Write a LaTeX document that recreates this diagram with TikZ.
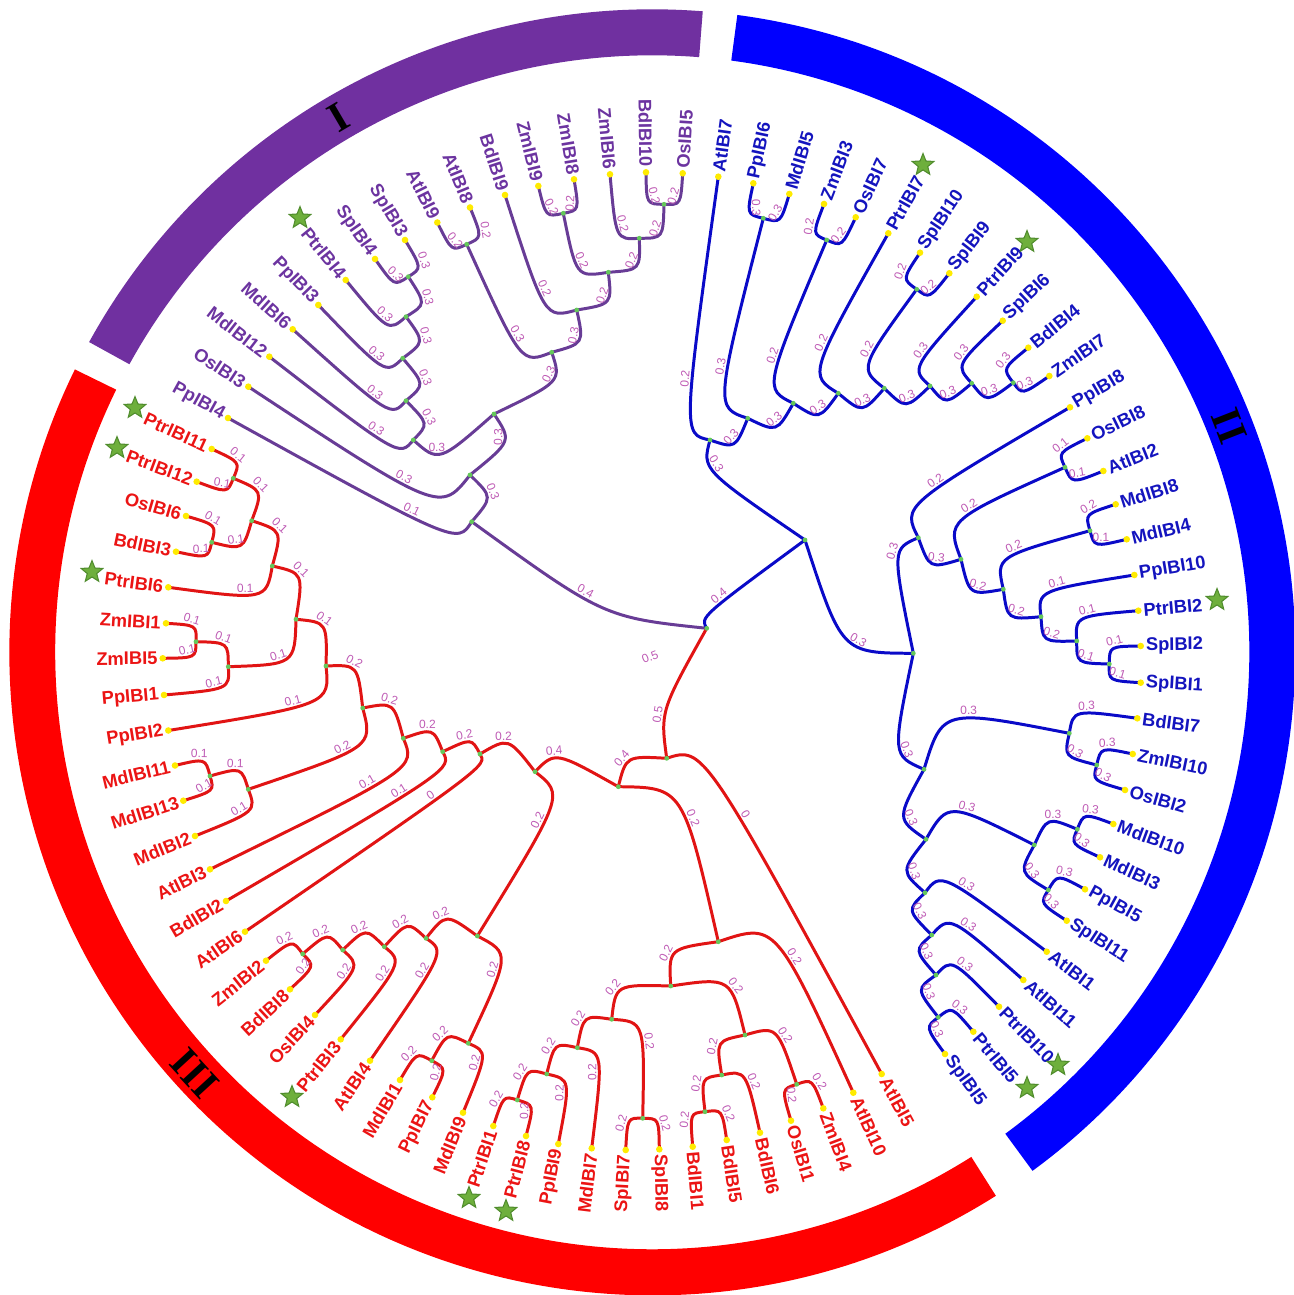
\documentclass[tikz,border=0pt]{standalone}
\usepackage{fontspec}
\setmainfont{Liberation Sans}
\newfontfamily\romfont{Liberation Serif}
\usetikzlibrary{calc,shapes.geometric}
\pgfdeclarelayer{bg}
\pgfsetlayers{bg,main}
\definecolor{purB}{RGB}{112,48,160}
\definecolor{purL}{RGB}{104,60,150}
\definecolor{purT}{RGB}{108,52,160}
\definecolor{bluB}{RGB}{0,0,255}
\definecolor{bluL}{RGB}{10,10,200}
\definecolor{bluT}{RGB}{20,20,190}
\definecolor{redB}{RGB}{255,0,0}
\definecolor{redL}{RGB}{225,20,20}
\definecolor{redT}{RGB}{235,20,20}
\definecolor{labc}{RGB}{190,90,180}
\definecolor{gdotc}{RGB}{100,200,90}
\definecolor{ydotc}{RGB}{255,235,0}
\definecolor{starF}{RGB}{110,175,60}
\definecolor{starD}{RGB}{80,140,45}
\tikzset{
  brn/.style={line width=0.85pt,line cap=round},
  blsty/.style={font=\fontsize{3.4}{3.7}\selectfont,text=labc,inner sep=0.4pt},
  lfsty/.style={font=\fontsize{5.2}{6}\selectfont\bfseries,inner sep=1.3pt},
  starsty/.style={star,star points=5,star point ratio=2.3,fill=starF,draw=starD,line width=0.3pt,minimum size=6.5pt,inner sep=0pt},
  romsty/.style={font=\romfont\bfseries\fontsize{12}{12}\selectfont,text=black,inner sep=0pt}
}
\newcommand\lf[4]{%
  \coordinate (#1) at (#2,#3);%
  \pgfmathsetmacro\LA{atan2(652.3-(#3),(#2)-652.3)}%
  \pgfmathtruncatemacro\LC{abs(\LA)<90 ? 1 : 0}%
  \ifnum\LC=1
    \node[lfsty,text=#4,rotate=\LA,anchor=west] (t#1) at (#1) {#1};%
  \else
    \pgfmathsetmacro\LB{\LA>0 ? \LA-180 : \LA+180}%
    \node[lfsty,text=#4,rotate=\LB,anchor=east] (t#1) at (#1) {#1};%
  \fi
  \fill[ydotc] (#1) circle[radius=3.3];}
\newcommand\nd[3]{\coordinate (#1) at (#2,#3); \fill[gdotc] (#1) circle[radius=2.4];}
\newcommand\ed[3]{%
  \draw[brn,draw=\ec] let \p1=($(#1)-(O)$), \n1={veclen(\x1,\y1)} in
    (#1) .. controls ($(O)!\n1!(#2)$) .. (#2) node[blsty,pos=.6,sloped,above]{#3};}
\begin{document}
\begin{tikzpicture}[x=0.01cm,y=-0.01cm]
\useasboundingbox (0,0) rectangle (1293,1295);
\coordinate (O) at (652.3,652.3);
% ring
\fill[purB] ($(O)+(-85.5:597)$) arc[start angle=-85.5,end angle=-151.15,radius=597]
  -- ($(O)+(-151.15:643)$) arc[start angle=-151.15,end angle=-85.5,radius=643] -- cycle;
\fill[bluB] ($(O)+(53.75:597)$) arc[start angle=53.75,end angle=-82.4,radius=597]
  -- ($(O)+(-82.4:643)$) arc[start angle=-82.4,end angle=53.75,radius=643] -- cycle;
\fill[redB] ($(O)+(-153.9:597)$) arc[start angle=-153.9,end angle=-302.3,radius=597]
  -- ($(O)+(-302.3:643)$) arc[start angle=-302.3,end angle=-153.9,radius=643] -- cycle;
\node[romsty,rotate=30.4] (n1) at ($(O)+(-120.4:620)$) {I};
\node[romsty,rotate=-68.6] (n2) at ($(O)+(-21.4:620)$) {II};
\node[romsty,rotate=132.6] (n3) at ($(O)+(-222.6:622)$) {III};
% root
\nd{RT}{706.7}{628.3}
% purple
\nd{P1}{471.7}{521.7}\nd{P2}{470}{475}\nd{P3}{494}{414}\nd{P4}{413.3}{440}
\nd{P5}{406}{400.7}\nd{P6}{402.7}{358.3}\nd{P7}{406}{316.7}\nd{P8}{408.3}{276.7}
\nd{P10}{551.7}{352.3}\nd{P11}{466.7}{244.3}\nd{P12}{576.7}{310}\nd{P13}{608.3}{272.3}
\nd{P14}{563.3}{213.3}\nd{P15}{639.3}{238.3}\nd{P16}{664}{204.3}
\lf{PpIBI4}{228}{418}{purT}
\lf{OsIBI3}{248.3}{386.7}{purT}
\lf{MdIBI12}{269.3}{356.7}{purT}
\lf{MdIBI6}{292.7}{329.3}{purT}
\lf{PpIBI3}{318.3}{305}{purT}
\lf{PtrIBI4}{345.7}{280}{purT}
\lf{SpIBI4}{375}{259}{purT}
\lf{SpIBI3}{405}{240}{purT}
\lf{AtIBI9}{437.3}{222.5}{purT}
\lf{AtIBI8}{470}{207.5}{purT}
\lf{BdIBI9}{505}{195}{purT}
\lf{ZmIBI9}{538.3}{186}{purT}
\lf{ZmIBI8}{574}{179.3}{purT}
\lf{ZmIBI6}{610}{174.3}{purT}
\lf{BdIBI10}{646}{172.3}{purT}
\lf{OsIBI5}{682.7}{173.3}{purT}
% blue
\nd{B0}{805}{540}\nd{B1}{710}{440}\nd{B2}{747.7}{418.3}\nd{B3}{763.3}{218.3}
\nd{B4}{793.3}{403.3}\nd{B5}{826.7}{240}\nd{B6}{838.3}{393.3}\nd{B7}{884.3}{388.3}
\nd{B8}{916.7}{289.3}\nd{B9}{930}{386}\nd{B10}{971.7}{383.3}\nd{B11}{1013.3}{382.7}
\nd{B20}{913.3}{653.3}\nd{B21}{918.3}{537.7}\nd{B22}{961}{559.3}\nd{B23}{1065}{467.3}
\nd{B24}{1003.3}{589.3}\nd{B25}{1090}{530.7}\nd{B26}{1041}{616.7}\nd{B27}{1076.7}{641}
\nd{B28}{1109.3}{664}\nd{B30}{924}{769.3}\nd{B31}{1069.3}{733.3}\nd{B32}{926}{839.3}
\nd{B33}{1096.7}{765}\nd{B34}{1034.3}{845}\nd{B35}{925}{892.7}\nd{B36}{1077.3}{829.3}
\nd{B37}{1048.3}{890}\nd{B38}{931.7}{935}\nd{B39}{936}{975}\nd{B40}{938.3}{1017.3}
\lf{AtIBI7}{718.3}{176.7}{bluT}
\lf{PpIBI6}{753.3}{183.3}{bluT}
\lf{MdIBI5}{789.3}{194}{bluT}
\lf{ZmIBI3}{824}{204}{bluT}
\lf{OsIBI7}{855.7}{217.3}{bluT}
\lf{PtrIBI7}{888.3}{233.3}{bluT}
\lf{SpIBI10}{920}{252.7}{bluT}
\lf{SpIBI9}{949.3}{273.3}{bluT}
\lf{PtrIBI9}{976.7}{296.7}{bluT}
\lf{SpIBI6}{1002.7}{320.7}{bluT}
\lf{BdIBI4}{1028.3}{347.7}{bluT}
\lf{ZmIBI7}{1049.3}{376}{bluT}
\lf{PpIBI8}{1070}{407.3}{bluT}
\lf{OsIBI8}{1087.3}{438.3}{bluT}
\lf{AtIBI2}{1103.3}{471}{bluT}
\lf{MdIBI8}{1115.7}{504.3}{bluT}
\lf{MdIBI4}{1126.7}{539.3}{bluT}
\lf{PpIBI10}{1134.3}{575}{bluT}
\lf{PtrIBI2}{1138.3}{610.7}{bluT}
\lf{SpIBI2}{1140.7}{646}{bluT}
\lf{SpIBI1}{1140.7}{682.7}{bluT}
\lf{BdIBI7}{1137.3}{718.3}{bluT}
\lf{ZmIBI10}{1132.7}{754}{bluT}
\lf{OsIBI2}{1125}{790}{bluT}
\lf{MdIBI10}{1113.3}{824}{bluT}
\lf{MdIBI3}{1100}{857.3}{bluT}
\lf{PpIBI5}{1085}{889.3}{bluT}
\lf{SpIBI11}{1066.7}{920.7}{bluT}
\lf{AtIBI1}{1046.7}{951.7}{bluT}
\lf{AtIBI11}{1023.3}{980}{bluT}
\lf{PtrIBI10}{999}{1006.7}{bluT}
\lf{PtrIBI5}{973.3}{1031.7}{bluT}
\lf{SpIBI5}{945}{1054}{bluT}
% red
\nd{RR}{666.7}{758.3}\nd{R1}{618.3}{786.7}\nd{R2}{535}{771.7}\nd{R3}{480}{754}
\nd{R4}{442.7}{751.7}\nd{R5}{403.3}{738.3}\nd{R6}{362.7}{708}\nd{R7}{326}{666}
\nd{R8}{248.3}{789.3}\nd{R9}{296}{619.3}\nd{R10}{477.3}{936}\nd{R11}{272.3}{566}
\nd{R12}{228.3}{666.7}\nd{R13}{251.7}{520.7}\nd{R14}{233.3}{478.3}\nd{R15}{211.7}{542.3}
\nd{R16}{196}{641.7}\nd{R17}{210}{776}\nd{R18}{426}{938.3}\nd{R19}{468.3}{1043.3}
\nd{R20}{718.3}{941.7}\nd{R21}{384.3}{946.7}\nd{R22}{342.7}{950}\nd{R23}{302.7}{954}
\nd{R24}{431.7}{1060.7}\nd{R25}{670.7}{986}\nd{R26}{611.7}{1019.3}\nd{R27}{745}{1035}
\nd{R28}{577.3}{1047.7}\nd{R29}{642.7}{1118.3}\nd{R30}{546.7}{1074}\nd{R31}{517.3}{1100}
\nd{R32}{721.7}{1075}\nd{R33}{796.7}{1084.3}\nd{R34}{705}{1111.7}
\lf{PtrIBI11}{211.7}{449}{redT}
\lf{PtrIBI12}{196.7}{481.7}{redT}
\lf{OsIBI6}{186}{516}{redT}
\lf{BdIBI3}{176}{551.7}{redT}
\lf{PtrIBI6}{168.3}{587.3}{redT}
\lf{ZmIBI1}{166}{623.3}{redT}
\lf{ZmIBI5}{162.7}{658.3}{redT}
\lf{PpIBI1}{164}{695}{redT}
\lf{PpIBI2}{168.3}{730.5}{redT}
\lf{MdIBI11}{175}{765.5}{redT}
\lf{MdIBI13}{183.3}{800.7}{redT}
\lf{MdIBI2}{195}{836}{redT}
\lf{AtIBI3}{210}{869.3}{redT}
\lf{BdIBI2}{226}{901}{redT}
\lf{AtIBI6}{245}{931.7}{redT}
\lf{ZmIBI2}{266}{960.7}{redT}
\lf{BdIBI8}{290}{989.3}{redT}
\lf{OsIBI4}{315}{1015}{redT}
\lf{PtrIBI3}{340.7}{1039.3}{redT}
\lf{AtIBI4}{370}{1060.7}{redT}
\lf{MdIBI1}{400}{1080}{redT}
\lf{PpIBI7}{432.3}{1097.3}{redT}
\lf{MdIBI9}{463}{1112.7}{redT}
\lf{PtrIBI1}{493.3}{1126}{redT}
\lf{PtrIBI8}{526}{1136}{redT}
\lf{PpIBI9}{558.3}{1144}{redT}
\lf{MdIBI7}{591.7}{1148.3}{redT}
\lf{SpIBI7}{625.7}{1150}{redT}
\lf{SpIBI8}{659.3}{1149.3}{redT}
\lf{BdIBI1}{692.7}{1146.7}{redT}
\lf{BdIBI5}{726.7}{1140}{redT}
\lf{BdIBI6}{760}{1132.7}{redT}
\lf{OsIBI1}{791}{1120.7}{redT}
\lf{ZmIBI4}{823.3}{1108.3}{redT}
\lf{AtIBI10}{853.3}{1092.7}{redT}
\lf{AtIBI5}{881.7}{1074}{redT}
% stars
\node[starsty] (s1) at (300,218) {};
\node[starsty] (s2) at (923,165) {};
\node[starsty] (s3) at (1027,242) {};
\node[starsty] (s4) at (1217,600) {};
\node[starsty] (s5) at (1058,1065) {};
\node[starsty] (s6) at (1027,1088) {};
\node[starsty] (s7) at (135,408) {};
\node[starsty] (s8) at (117,448) {};
\node[starsty] (s9) at (92,572) {};
\node[starsty] (s10) at (292,1097) {};
\node[starsty] (s11) at (469,1198) {};
\node[starsty] (s12) at (506,1211) {};
\node[blsty,rotate=22] (x05) at (650,657) {0.5};
\begin{pgfonlayer}{bg}
\def\ec{purL}
\ed{RT}{P1}{0.4}
\ed{P1}{PpIBI4}{0.1}
\ed{P1}{P2}{0.3}
\ed{P2}{OsIBI3}{0.3}
\ed{P2}{P3}{0.3}
\ed{P3}{P4}{0.3}
\ed{P4}{MdIBI12}{0.3}
\ed{P4}{P5}{0.3}
\ed{P5}{MdIBI6}{0.3}
\ed{P5}{P6}{0.3}
\ed{P6}{PpIBI3}{0.3}
\ed{P6}{P7}{0.3}
\ed{P7}{PtrIBI4}{0.3}
\ed{P7}{P8}{0.3}
\ed{P8}{SpIBI4}{0.3}
\ed{P8}{SpIBI3}{0.3}
\ed{P3}{P10}{0.3}
\ed{P10}{P11}{0.3}
\ed{P11}{AtIBI9}{0.2}
\ed{P11}{AtIBI8}{0.2}
\ed{P10}{P12}{0.3}
\ed{P12}{BdIBI9}{0.2}
\ed{P12}{P13}{0.2}
\ed{P13}{P14}{0.2}
\ed{P14}{ZmIBI9}{0.2}
\ed{P14}{ZmIBI8}{0.2}
\ed{P13}{P15}{0.2}
\ed{P15}{ZmIBI6}{0.2}
\ed{P15}{P16}{0.2}
\ed{P16}{BdIBI10}{0.2}
\ed{P16}{OsIBI5}{0.2}
\def\ec{bluL}
\ed{RT}{B0}{0.4}
\ed{B0}{B1}{0.3}
\ed{B1}{AtIBI7}{0.2}
\ed{B1}{B2}{0.3}
\ed{B2}{B3}{0.3}
\ed{B3}{PpIBI6}{0.3}
\ed{B3}{MdIBI5}{0.3}
\ed{B2}{B4}{0.3}
\ed{B4}{B5}{0.2}
\ed{B5}{ZmIBI3}{0.2}
\ed{B5}{OsIBI7}{0.2}
\ed{B4}{B6}{0.3}
\ed{B6}{PtrIBI7}{0.2}
\ed{B6}{B7}{0.3}
\ed{B7}{B8}{0.2}
\ed{B8}{SpIBI10}{0.2}
\ed{B8}{SpIBI9}{0.2}
\ed{B7}{B9}{0.3}
\ed{B9}{PtrIBI9}{0.3}
\ed{B9}{B10}{0.3}
\ed{B10}{SpIBI6}{0.3}
\ed{B10}{B11}{0.3}
\ed{B11}{BdIBI4}{0.3}
\ed{B11}{ZmIBI7}{0.3}
\ed{B0}{B20}{0.3}
\ed{B20}{B21}{0.3}
\ed{B21}{PpIBI8}{0.2}
\ed{B21}{B22}{0.3}
\ed{B22}{B23}{0.2}
\ed{B23}{OsIBI8}{0.1}
\ed{B23}{AtIBI2}{0.1}
\ed{B22}{B24}{0.2}
\ed{B24}{B25}{0.2}
\ed{B25}{MdIBI8}{0.2}
\ed{B25}{MdIBI4}{0.1}
\ed{B24}{B26}{0.2}
\ed{B26}{PpIBI10}{0.1}
\ed{B26}{B27}{0.2}
\ed{B27}{PtrIBI2}{0.1}
\ed{B27}{B28}{0.1}
\ed{B28}{SpIBI2}{0.1}
\ed{B28}{SpIBI1}{0.1}
\ed{B20}{B30}{0.3}
\ed{B30}{B31}{0.3}
\ed{B31}{BdIBI7}{0.3}
\ed{B31}{B33}{0.3}
\ed{B33}{ZmIBI10}{0.3}
\ed{B33}{OsIBI2}{0.3}
\ed{B30}{B32}{0.3}
\ed{B32}{B34}{0.3}
\ed{B34}{B36}{0.3}
\ed{B36}{MdIBI10}{0.3}
\ed{B36}{MdIBI3}{0.3}
\ed{B34}{B37}{0.3}
\ed{B37}{PpIBI5}{0.3}
\ed{B37}{SpIBI11}{0.3}
\ed{B32}{B35}{0.3}
\ed{B35}{AtIBI1}{0.3}
\ed{B35}{B38}{0.3}
\ed{B38}{AtIBI11}{0.3}
\ed{B38}{B39}{0.3}
\ed{B39}{PtrIBI10}{0.3}
\ed{B39}{B40}{0.3}
\ed{B40}{PtrIBI5}{0.3}
\ed{B40}{SpIBI5}{0.3}
\def\ec{redL}
\ed{RT}{RR}{0.5}
\ed{RR}{R1}{0.4}
\ed{RR}{AtIBI5}{0}
\ed{R1}{R2}{0.4}
\ed{R1}{R20}{0.2}
\ed{R2}{R3}{0.2}
\ed{R2}{R10}{0.2}
\ed{R3}{R4}{0.2}
\ed{R3}{AtIBI6}{0}
\ed{R4}{R5}{0.2}
\ed{R4}{BdIBI2}{0.1}
\ed{R5}{R6}{0.2}
\ed{R5}{AtIBI3}{0.1}
\ed{R6}{R7}{0.2}
\ed{R6}{R8}{0.2}
\ed{R7}{R9}{0.1}
\ed{R7}{PpIBI2}{0.1}
\ed{R9}{R11}{0.1}
\ed{R9}{R12}{0.1}
\ed{R11}{R13}{0.1}
\ed{R11}{PtrIBI6}{0.1}
\ed{R13}{R14}{0.1}
\ed{R13}{R15}{0.1}
\ed{R14}{PtrIBI11}{0.1}
\ed{R14}{PtrIBI12}{0.1}
\ed{R15}{OsIBI6}{0.1}
\ed{R15}{BdIBI3}{0.1}
\ed{R12}{R16}{0.1}
\ed{R12}{PpIBI1}{0.1}
\ed{R16}{ZmIBI1}{0.1}
\ed{R16}{ZmIBI5}{0.1}
\ed{R8}{R17}{0.1}
\ed{R8}{MdIBI2}{0.1}
\ed{R17}{MdIBI11}{0.1}
\ed{R17}{MdIBI13}{0.1}
\ed{R10}{R18}{0.2}
\ed{R10}{R19}{0.2}
\ed{R18}{R21}{0.2}
\ed{R18}{AtIBI4}{0.2}
\ed{R21}{R22}{0.2}
\ed{R21}{PtrIBI3}{0.2}
\ed{R22}{R23}{0.2}
\ed{R22}{OsIBI4}{0.2}
\ed{R23}{ZmIBI2}{0.2}
\ed{R23}{BdIBI8}{0.2}
\ed{R19}{R24}{0.2}
\ed{R19}{MdIBI9}{0.2}
\ed{R24}{MdIBI1}{0.2}
\ed{R24}{PpIBI7}{0.2}
\ed{R20}{R25}{0.2}
\ed{R20}{AtIBI10}{0.2}
\ed{R25}{R26}{0.2}
\ed{R25}{R27}{0.2}
\ed{R26}{R28}{0.2}
\ed{R26}{R29}{0.2}
\ed{R28}{R30}{0.2}
\ed{R28}{MdIBI7}{0.2}
\ed{R30}{R31}{0.2}
\ed{R30}{PpIBI9}{0.2}
\ed{R31}{PtrIBI1}{0.2}
\ed{R31}{PtrIBI8}{0.2}
\ed{R29}{SpIBI7}{0.2}
\ed{R29}{SpIBI8}{0.2}
\ed{R27}{R32}{0.2}
\ed{R27}{R33}{0.2}
\ed{R32}{R34}{0.2}
\ed{R32}{BdIBI6}{0.2}
\ed{R34}{BdIBI1}{0.2}
\ed{R34}{BdIBI5}{0.2}
\ed{R33}{OsIBI1}{0.2}
\ed{R33}{ZmIBI4}{0.2}
\end{pgfonlayer}
\end{tikzpicture}
\end{document}
